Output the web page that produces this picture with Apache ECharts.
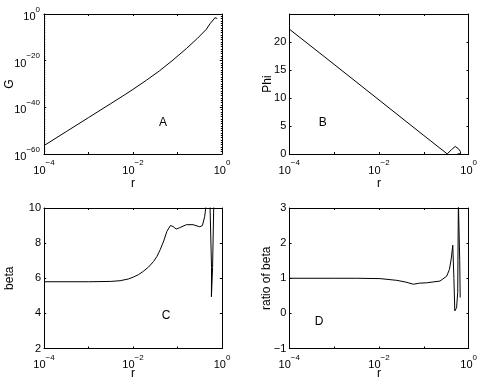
<!DOCTYPE html>
<html>
<head>
<meta charset="utf-8">
<script src="https://cdn.jsdelivr.net/npm/echarts@6/dist/echarts.min.js"></script>
<style>
html,body{margin:0;padding:0;background:#fff;}
#chart{width:480px;height:382px;}
</style>
</head>
<body>
<div id="chart"></div>
<script>
// r is kept as log10(r), G as log10(G) (log axes drawn as decades)
var rA = [-4, -3.5, -3, -2.5, -2.2, -2, -1.7, -1.4, -1.1, -0.8, -0.55, -0.35, -0.27, -0.2, -0.16, -0.12, -0.11];
var gA = [-56.4, -50.4, -44.4, -38.4, -34.8, -32.3, -28.4, -24.3, -19.7, -14.8, -10.4, -6.5, -4.2, -2.6, -1.6, -1.0, -1.9];

var rB = [-4, -3, -2, -1, -0.48, -0.38, -0.3, -0.23, -0.185, -0.18, -0.25];
var phiB = [22.3, 16.0, 9.65, 3.3, 0.02, 0.8, 1.35, 0.95, 0.45, 0.05, 0.02];

var rC = [-4, -3, -2.5, -2.29, -2.1, -1.99, -1.88, -1.77, -1.65, -1.54, -1.46, -1.39, -1.31, -1.24, -1.16, -1.1, -1.03, -0.95, -0.8, -0.65, -0.5, -0.44, -0.39, -0.35, -0.31, -0.27, -0.235, -0.238, -0.212, -0.185];
var betaC = [5.8, 5.8, 5.82, 5.86, 5.96, 6.07, 6.2, 6.39, 6.64, 6.95, 7.25, 7.62, 8.12, 8.66, 9.0, 8.95, 8.8, 8.88, 9.05, 9.05, 8.93, 9.0, 9.5, 10.3, 11.0, 10.2, 6.6, 4.95, 6.6, 10.2];

var rD = [-4, -3, -2.5, -1.98, -1.6, -1.4, -1.235, -1.1, -0.94, -0.64, -0.49, -0.43, -0.39, -0.355, -0.33, -0.31, -0.27, -0.245, -0.23, -0.21, -0.2, -0.19];
var ratioD = [1.0, 1.0, 1.0, 0.99, 0.94, 0.89, 0.83, 0.86, 0.87, 0.92, 1.06, 1.25, 1.55, 1.94, 1.0, 0.07, 0.16, 0.6, 3.2, 3.2, 1.5, 0.45];

var xLabelled = [-4, -2, 0]; // decades with a label
var FONT = '"Liberation Sans", Arial, Helvetica, sans-serif';

var chart = echarts.init(document.getElementById('chart'));

function pairs(xs, ys) {
	return xs.map(function (x, i) { return [x, ys[i]]; });
}
function minus(v) {
	return v < 0 ? '\u2212' + (-v) : String(v);
}
function pow10(v) {
	var e = Math.round(v);
	return '{b|10}{s|' + minus(e) + '}';
}
var rich = {
	b: {fontSize: 11, fontFamily: FONT, color: '#000', padding: [6, 0, 0, 0]},
	s: {fontSize: 8, fontFamily: FONT, color: '#000', verticalAlign: 'top'}
};
var nameStyle = {color: '#000', fontSize: 12, fontFamily: FONT};
var black = {color: '#000', width: 1};

var grids = [
	{left: 44, top: 14, width: 178, height: 140},
	{left: 289.3, top: 14, width: 179.4, height: 140},
	{left: 44, top: 208, width: 178, height: 140.5},
	{left: 289.3, top: 208, width: 179.4, height: 140.5}
];
grids.forEach(function (g) { g.outerBoundsMode = 'none'; g.containLabel = false; });

var xAxis = [], yAxis = [];
function addX(g, nameGap) {
	xAxis.push({
		gridIndex: g, type: 'value', min: -4, max: 0, interval: 1, position: 'bottom',
		axisLine: {onZero: false, lineStyle: black},
		axisTick: {inside: true, length: 2, lineStyle: black},
		axisLabel: {
			margin: 5, rich: rich,
			formatter: function (v) { return xLabelled.indexOf(Math.round(v)) >= 0 ? pow10(v) : ''; }
		},
		splitLine: {show: false},
		name: 'r', nameLocation: 'middle', nameGap: nameGap, nameMoveOverlap: false, nameTextStyle: nameStyle
	});
	xAxis.push({
		gridIndex: g, type: 'value', min: -4, max: 0, interval: 1, position: 'top',
		axisLine: {onZero: false, lineStyle: black},
		axisTick: {inside: true, length: 2, lineStyle: black},
		axisLabel: {show: false}, splitLine: {show: false}
	});
}
function addY(g, o) {
	var minor = o.minor ? {show: true, splitNumber: o.minor, length: 1.2, lineStyle: black} : {show: false};
	yAxis.push({
		gridIndex: g, type: 'value', min: o.min, max: o.max, interval: o.interval, position: 'left',
		axisLine: {onZero: false, lineStyle: black},
		axisTick: {inside: true, length: 2.2, lineStyle: black},
		minorTick: minor,
		axisLabel: {margin: o.margin, color: '#000', fontSize: 11, fontFamily: FONT, rich: rich, formatter: o.formatter},
		splitLine: {show: false},
		name: o.name, nameLocation: 'middle', nameRotate: 90, nameGap: o.nameGap, nameMoveOverlap: false,
		nameTextStyle: nameStyle
	});
	yAxis.push({
		gridIndex: g, type: 'value', min: o.min, max: o.max, interval: o.interval, position: 'right',
		axisLine: {onZero: false, lineStyle: black},
		axisTick: {inside: true, length: 2.2, lineStyle: black},
		minorTick: minor,
		axisLabel: {show: false}, splitLine: {show: false}
	});
}

addX(0, 23.5); addX(1, 23.5); addX(2, 19); addX(3, 19);
addY(0, {min: -60, max: 0, interval: 20, minor: 20, name: 'G', nameGap: 28, margin: 4, formatter: pow10});
addY(1, {min: 0, max: 25, interval: 5, name: 'Phi', nameGap: 15.5, margin: 3,
	formatter: function (v) { return v >= 25 ? '' : minus(v); }});
addY(2, {min: 2, max: 10, interval: 2, name: 'beta', nameGap: 28.5, margin: 3, formatter: minus});
addY(3, {min: -1, max: 3, interval: 1, name: 'ratio of beta', nameGap: 17, margin: 3, formatter: minus});

function line(g, xs, ys) {
	return {
		type: 'line', xAxisIndex: 2 * g, yAxisIndex: 2 * g,
		data: pairs(xs, ys), showSymbol: false, symbol: 'none', clip: true,
		lineStyle: {color: '#000', width: 1}, silent: true
	};
}

function letter(t, x, y) {
	return {type: 'text', x: x, y: y, silent: true,
		style: {text: t, fill: '#000', font: '12px ' + FONT, align: 'center', verticalAlign: 'middle'}};
}

var option = {
	animation: false,
	backgroundColor: '#fff',
	grid: grids,
	xAxis: xAxis,
	yAxis: yAxis,
	series: [line(0, rA, gA), line(1, rB, phiB), line(2, rC, betaC), line(3, rD, ratioD)],
	graphic: [letter('A', 163, 123), letter('B', 322.7, 122.7), letter('C', 166, 316), letter('D', 319, 322)]
};
chart.setOption(option);
window.addEventListener('resize', function () { chart.resize(); });
</script>
</body>
</html>
